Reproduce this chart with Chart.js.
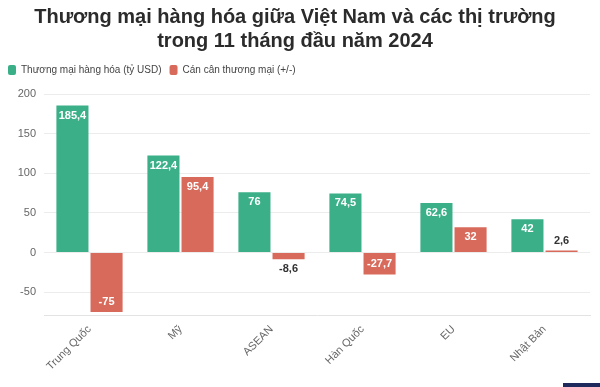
<!DOCTYPE html>
<html>
<head>
<meta charset="utf-8">
<script src="https://cdn.jsdelivr.net/npm/chart.js@4"></script>
<style>
  body { margin: 0; background: #fff; }
  #wrap { width: 600px; height: 387px; position: relative; }
  #logo { position: absolute; right: 0; bottom: 0; width: 37px; height: 4px; background: #1f2a5c; }
</style>
</head>
<body>
<div id="wrap"><canvas id="chart" width="600" height="387"></canvas><div id="logo"></div></div>
<script>
const markets = ['Trung Quốc', 'Mỹ', 'ASEAN', 'Hàn Quốc', 'EU', 'Nhật Bản'];
const tradeValues = [185.4, 122.4, 76, 74.5, 62.6, 42];
const balanceValues = [-75, 95.4, -8.6, -27.7, 32, 2.6];
const yTicks = [-50, 0, 50, 100, 150, 200];

const green = '#3bb088';
const red = '#d86a5c';

function fmt(v) {
    return String(v).replace('.', ',');
}

// draws value labels inside the bar end, or outside when the bar is too short
const barLabels = {
    id: 'barLabels',
    afterDatasetsDraw(chart) {
        const ctx = chart.ctx;
        ctx.save();
        ctx.font = 'bold 11px "Liberation Sans", sans-serif';
        ctx.textAlign = 'center';
        ctx.textBaseline = 'middle';
        chart.data.datasets.forEach((ds, i) => {
            chart.getDatasetMeta(i).data.forEach((bar, j) => {
                const v = ds.data[j];
                const h = Math.abs(bar.base - bar.y);
                const up = v >= 0;
                let y;
                if (h > 20) {
                    ctx.fillStyle = '#fff';
                    y = up ? bar.y + 10 : bar.y - 10;
                } else {
                    ctx.fillStyle = '#333';
                    y = up ? bar.y - 9 : bar.y + 10;
                }
                ctx.fillText(fmt(v), bar.x, y);
            });
        });
        ctx.restore();
    }
};

// a bit more room under the legend
const legendGap = {
    id: 'legendGap',
    beforeInit(chart) {
        const fit = chart.legend.fit;
        chart.legend.fit = function () {
            fit.bind(chart.legend)();
            this.height += 9;
        };
    }
};

const ctx = document.getElementById('chart').getContext('2d');
new Chart(ctx, {
    type: 'bar',
    data: {
        labels: markets,
        datasets: [{
            label: 'Thương mại hàng hóa (tỷ USD)',
            data: tradeValues,
            backgroundColor: green,
            barPercentage: 0.94,
            categoryPercentage: 0.75
        }, {
            label: 'Cán cân thương mại (+/-)',
            data: balanceValues,
            backgroundColor: red,
            barPercentage: 0.94,
            categoryPercentage: 0.75
        }]
    },
    options: {
        responsive: false,
        animation: false,
        layout: { padding: { left: 0, right: 10, top: 5, bottom: 12 } },
        plugins: {
            title: {
                display: true,
                text: ['Thương mại hàng hóa giữa Việt Nam và các thị trường', 'trong 11 tháng đầu năm 2024'],
                color: '#2b2b2b',
                font: { family: '"Liberation Sans", sans-serif', size: 20, weight: 'bold' },
                lineHeight: 1.4,
                padding: { top: 0, bottom: 4 }
            },
            legend: {
                align: 'start',
                labels: {
                    boxWidth: 8,
                    boxHeight: 10,
                    useBorderRadius: true,
                    borderRadius: 2,
                    color: '#444',
                    padding: 8,
                    font: { family: '"Liberation Sans", sans-serif', size: 10 }
                }
            },
            tooltip: { enabled: false }
        },
        scales: {
            y: {
                min: -80,
                max: 200,
                afterBuildTicks(axis) {
                    axis.ticks = yTicks.map(v => ({ value: v }));
                },
                afterFit(axis) {
                    axis.width = 44;
                },
                grid: { color: '#ececec', drawTicks: false },
                border: { display: false },
                ticks: {
                    color: '#666',
                    padding: 8,
                    font: { family: '"Liberation Sans", sans-serif', size: 11 }
                }
            },
            x: {
                grid: { display: false, drawTicks: true, tickLength: 5, tickColor: '#ddd' },
                border: { color: '#e3e3e3' },
                ticks: {
                    color: '#666',
                    maxRotation: 45,
                    minRotation: 45,
                    padding: 2,
                    font: { family: '"Liberation Sans", sans-serif', size: 11 }
                }
            }
        }
    },
    plugins: [barLabels, legendGap]
});
</script>
</body>
</html>
